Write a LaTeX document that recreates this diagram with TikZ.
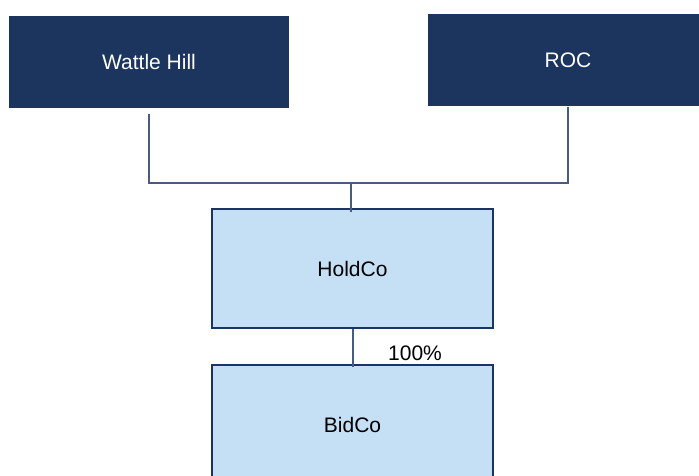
\documentclass[tikz,border=0pt]{standalone}
\usepackage{fontspec}
\setmainfont{Liberation Sans}
\definecolor{navy}{HTML}{1C355E}
\definecolor{paleblue}{HTML}{C5DFF5}
\definecolor{linkgrey}{HTML}{4A5B82}

\begin{document}
\begin{tikzpicture}[
        x=1pt, y=1pt,
        every node/.style={font=\fontsize{21}{25}\selectfont, inner sep=0pt},
        owner/.style={fill=navy, text=white, minimum width=280, minimum height=92},
        entity/.style={fill=paleblue, draw=navy, line width=2pt, minimum width=281, minimum height=119},
        link/.style={draw=linkgrey, line width=1.4pt}
    ]
        \useasboundingbox (0,0) rectangle (699,-475);
        \clip (0,0) rectangle (699,-475);
        \node[owner] (wattle) at (149,-62) {Wattle Hill};
        \node[owner] (roc) at (568,-60) {ROC};
        \node[entity] (holdco) at (352.5,-268.5) {HoldCo};
        \node[entity] (bidco) at (352.5,-424.5) {BidCo};
        \coordinate (join) at (351,-183);
        \path[link] ([yshift=-6]wattle.south) |- (join) -| ([yshift=-1]roc.south);
        \path[link] (join) -- ([yshift=-4]join |- holdco.north);
        \path[link] ([xshift=0.5]holdco.south) -- ([xshift=0.5,yshift=-3]bidco.north)
            node[midway, xshift=62, yshift=-5] (share) {100\%};
    \end{tikzpicture}
\end{document}
